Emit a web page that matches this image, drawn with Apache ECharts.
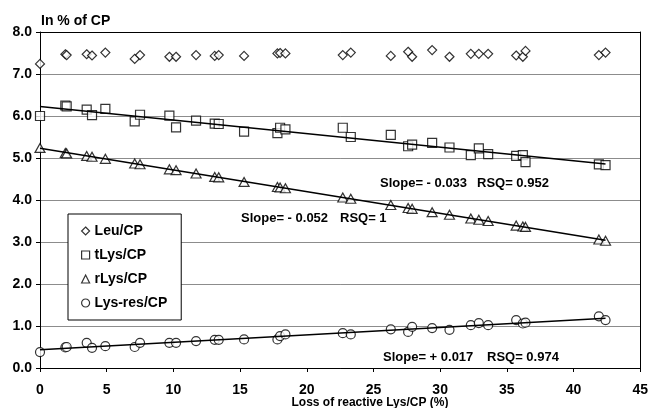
<!DOCTYPE html>
<html>
<head>
<meta charset="utf-8">
<script src="https://cdn.jsdelivr.net/npm/echarts@6/dist/echarts.min.js"></script>
<style>
html,body{margin:0;padding:0;background:#fff;}
#chart{width:651px;height:408px;}
</style>
</head>
<body>
<div id="chart"></div>
<script>
// ---- data ----
var xVals = [0, 1.9, 2.0, 3.5, 3.9, 4.9, 7.1, 7.5, 9.7, 10.2, 11.7, 13.1, 13.4, 15.3, 17.8, 18.0, 18.4,
             22.7, 23.3, 26.3, 27.6, 27.9, 29.4, 30.7, 32.3, 32.9, 33.6, 35.7, 36.2, 36.4, 41.9, 42.4];
var leu    = [7.24, 7.47, 7.45, 7.47, 7.44, 7.51, 7.36, 7.45, 7.41, 7.41, 7.45, 7.43, 7.45, 7.43, 7.49, 7.50, 7.49,
              7.45, 7.51, 7.43, 7.53, 7.41, 7.57, 7.41, 7.48, 7.48, 7.48, 7.44, 7.41, 7.55, 7.45, 7.51];
var tLys   = [6.00, 6.25, 6.23, 6.15, 6.02, 6.17, 5.87, 6.03, 6.01, 5.73, 5.89, 5.82, 5.81, 5.63, 5.59, 5.72, 5.68,
              5.72, 5.50, 5.55, 5.28, 5.32, 5.36, 5.25, 5.07, 5.23, 5.09, 5.05, 5.07, 4.90, 4.85, 4.83];
var rLys   = [5.24, 5.12, 5.11, 5.05, 5.03, 4.98, 4.87, 4.85, 4.73, 4.71, 4.63, 4.55, 4.54, 4.43, 4.31, 4.30, 4.28,
              4.06, 4.03, 3.88, 3.81, 3.79, 3.71, 3.65, 3.56, 3.53, 3.50, 3.39, 3.37, 3.36, 3.06, 3.03];
var lysRes = [0.38, 0.49, 0.50, 0.60, 0.48, 0.52, 0.50, 0.60, 0.60, 0.60, 0.64, 0.67, 0.67, 0.68, 0.68, 0.76, 0.80,
              0.83, 0.80, 0.92, 0.86, 0.98, 0.95, 0.91, 1.02, 1.07, 1.02, 1.14, 1.06, 1.08, 1.23, 1.14];
var seriesNames = ['Leu/CP', 'tLys/CP', 'rLys/CP', 'Lys-res/CP'];
var xTicks = [0, 5, 10, 15, 20, 25, 30, 35, 40, 45];
var yTicks = [0, 1, 2, 3, 4, 5, 6, 7, 8];
var yTitle = 'In % of CP';
var xTitle = 'Loss of reactive Lys/CP (%)';
var notes = [
  ['Slope= - 0.033', 'RSQ= 0.952'],
  ['Slope= - 0.052', 'RSQ= 1'],
  ['Slope= + 0.017', 'RSQ= 0.974']
];

// ---- helpers ----
function pairs(ys){ return xVals.map(function(x,i){ return [x, ys[i]]; }); }
function fitLine(ys){
  var n = xVals.length, sx=0, sy=0, sxx=0, sxy=0;
  for (var i=0;i<n;i++){ sx+=xVals[i]; sy+=ys[i]; sxx+=xVals[i]*xVals[i]; sxy+=xVals[i]*ys[i]; }
  var b = (n*sxy - sx*sy)/(n*sxx - sx*sx);
  var a = (sy - b*sx)/n;
  var x0 = Math.min.apply(null, xVals), x1 = Math.max.apply(null, xVals);
  return [[x0, a+b*x0], [x1, a+b*x1]];
}

var FONT = '"Liberation Sans", Arial, sans-serif';
var mark = {color:'#fff', borderColor:'#000', borderWidth:1.2};

function scatter(name, ys, symbol, size){
  return {name:name, type:'scatter', data:pairs(ys), symbol:symbol, symbolSize:size,
          itemStyle:mark, z:3, silent:true};
}
function trend(ys){
  return {type:'line', data:fitLine(ys), showSymbol:false, symbol:'none', z:4, silent:true,
          lineStyle:{color:'#000', width:1.5}};
}

var chart = echarts.init(document.getElementById('chart'), null, {renderer:'canvas'});
chart.setOption({
  animation:false,
  backgroundColor:'#fff',
  textStyle:{fontFamily:FONT},
  grid:{left:40, right:8, top:32, bottom:40},
  title:{text:yTitle, left:41, top:14, padding:0,
         textStyle:{fontFamily:FONT, fontSize:14, fontWeight:'bold', color:'#000'}},
  legend:{
    data:seriesNames, orient:'vertical', left:68, top:214,
    padding:[10, 14, 10, 13], itemGap:10, itemWidth:8, itemHeight:8,
    backgroundColor:'#fff', borderColor:'#000', borderWidth:1,
    textStyle:{fontFamily:FONT, fontSize:14, fontWeight:'bold', color:'#000'},
    itemStyle:{color:'#fff', borderColor:'#000', borderWidth:1.2},
    selectedMode:false
  },
  xAxis:[{
    type:'value', min:xTicks[0], max:xTicks[xTicks.length-1], interval:5,
    axisLine:{lineStyle:{color:'#000', width:1}},
    axisTick:{show:true, length:4, lineStyle:{color:'#000'}},
    axisLabel:{color:'#000', fontSize:14, fontWeight:'bold', fontFamily:FONT, margin:15},
    splitLine:{show:false}
  },{
    type:'value', position:'top', min:xTicks[0], max:xTicks[xTicks.length-1],
    axisLine:{show:true, onZero:false, lineStyle:{color:'#000'}},
    axisTick:{show:false}, axisLabel:{show:false}, splitLine:{show:false}
  }],
  yAxis:[{
    type:'value', min:yTicks[0], max:yTicks[yTicks.length-1], interval:1,
    axisLine:{show:true, lineStyle:{color:'#000', width:1}},
    axisTick:{show:true, length:4, lineStyle:{color:'#000'}},
    axisLabel:{color:'#000', fontSize:14, fontWeight:'bold', fontFamily:FONT, margin:8,
               formatter:function(v){ return v.toFixed(1); }},
    splitLine:{show:true, lineStyle:{color:'#8c8c8c', width:1}}
  },{
    type:'value', position:'right', min:yTicks[0], max:yTicks[yTicks.length-1],
    axisLine:{show:true, onZero:false, lineStyle:{color:'#000'}},
    axisTick:{show:false}, axisLabel:{show:false}, splitLine:{show:false}
  }],
  graphic:[
    {type:'text', x:370, y:403, style:{text:xTitle, fill:'#000', font:'bold 12px '+FONT, textAlign:'center', textVerticalAlign:'middle'}},
    {type:'text', x:380, y:183, style:{text:notes[0][0], fill:'#000', font:'bold 13px '+FONT, textVerticalAlign:'middle'}},
    {type:'text', x:477, y:183, style:{text:notes[0][1], fill:'#000', font:'bold 13px '+FONT, textVerticalAlign:'middle'}},
    {type:'text', x:241, y:218, style:{text:notes[1][0], fill:'#000', font:'bold 13px '+FONT, textVerticalAlign:'middle'}},
    {type:'text', x:340, y:218, style:{text:notes[1][1], fill:'#000', font:'bold 13px '+FONT, textVerticalAlign:'middle'}},
    {type:'text', x:383, y:357, style:{text:notes[2][0], fill:'#000', font:'bold 13px '+FONT, textVerticalAlign:'middle'}},
    {type:'text', x:487, y:357, style:{text:notes[2][1], fill:'#000', font:'bold 13px '+FONT, textVerticalAlign:'middle'}}
  ],
  series:[
    scatter(seriesNames[0], leu, 'diamond', [9, 9]),
    scatter(seriesNames[1], tLys, 'rect', 9),
    scatter(seriesNames[2], rLys, 'triangle', [10, 9]),
    scatter(seriesNames[3], lysRes, 'circle', 9),
    trend(tLys),
    trend(rLys),
    trend(lysRes)
  ]
});
</script>
</body>
</html>
